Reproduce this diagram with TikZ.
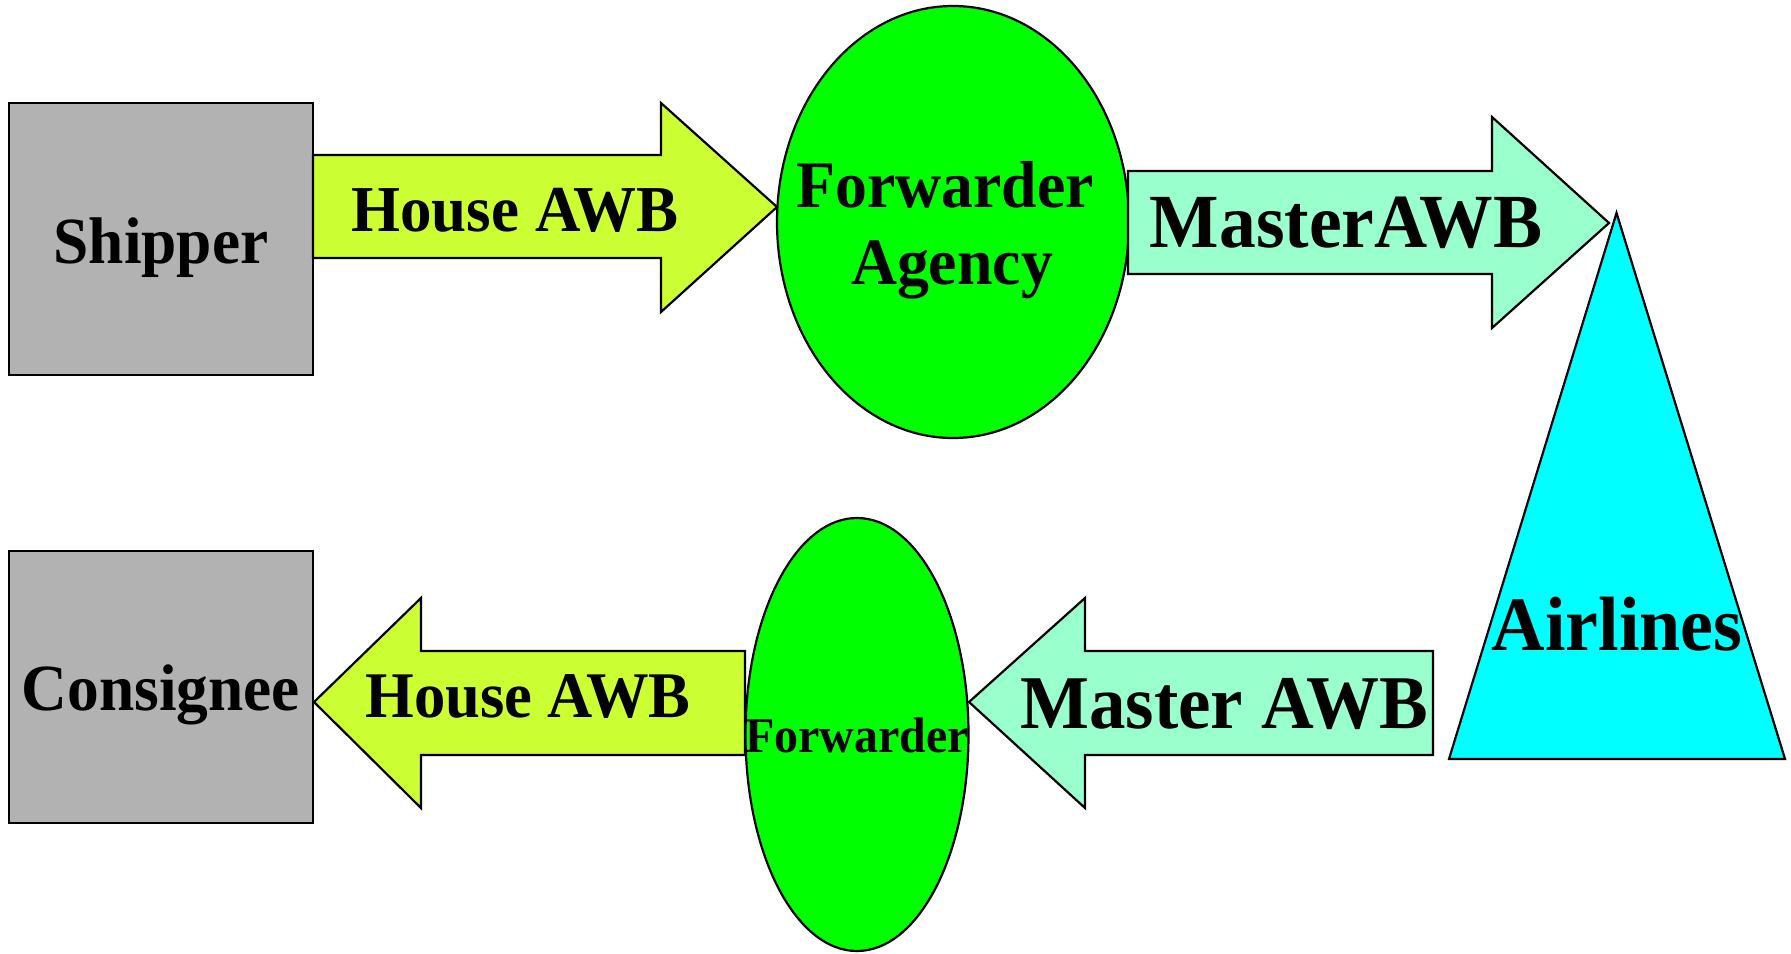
\documentclass[tikz,border=0pt]{standalone}
\usepackage{fontspec}
\setmainfont{Liberation Serif}
\usetikzlibrary{shapes.geometric}
\definecolor{boxgray}{HTML}{B2B2B2}
\definecolor{housecol}{HTML}{CCFF33}
\definecolor{fwdcol}{HTML}{00FF00}
\definecolor{mastercol}{HTML}{99FFCC}
\definecolor{aircol}{HTML}{00FFFF}
\newcommand{\fsz}[1]{\bfseries\fontsize{#1}{#1}\selectfont}
\begin{document}
\begin{tikzpicture}[x=0.5pt,y=-0.5pt,
  outline/.style={draw=black,line width=1.1pt,line join=miter},
  party/.style={outline,fill=boxgray,rectangle,minimum width=152pt,minimum height=136pt,inner sep=0pt},
  fwd/.style={outline,fill=fwdcol,ellipse,inner sep=0pt},
  housearrow/.style={outline,fill=housecol},
  masterarrow/.style={outline,fill=mastercol},
  lbl/.style={anchor=base,inner sep=0pt,yscale=1.04},
]
\useasboundingbox (0,0) rectangle (1791,953);

% parties
\node[party] (shipper) at (161,239) {};
\node[party] (consignee) at (161,687) {};

% top House AWB arrow
\coordinate (h1s) at (313,155);
\draw[housearrow] (h1s) -- (661,155) -- (661,103) -- (777,207) -- (661,312) -- (661,258) -- (313,258) -- cycle;

% Forwarder Agency ellipse
\node[fwd,minimum width=176pt,minimum height=216pt] (agency) at (953,222) {};

% top Master AWB arrow
\coordinate (m1s) at (1128,171);
\draw[masterarrow] (m1s) -- (1492,171) -- (1492,117) -- (1609,223) -- (1492,328) -- (1492,274) -- (1128,274) -- cycle;

% Airlines triangle
\coordinate (apex) at (1616.5,213);
\draw[outline,fill=aircol] (apex) -- (1785,759) -- (1449,759) -- cycle;

% lower Master AWB arrow
\coordinate (m2t) at (969,702);
\draw[masterarrow] (m2t) -- (1085,598) -- (1085,651) -- (1433,651) -- (1433,755) -- (1085,755) -- (1085,808) -- cycle;

% lower House AWB arrow
\coordinate (h2t) at (314,702);
\draw[housearrow] (h2t) -- (421,598) -- (421,651) -- (745,651) -- (745,755) -- (421,755) -- (421,808) -- cycle;

% Forwarder ellipse
\node[fwd,minimum width=111.5pt,minimum height=216.5pt] (forwarder) at (857,734.5) {};

% labels
\node[lbl,font=\fsz{31.7}] (tship) at (161,263) {Shipper};
\node[lbl,font=\fsz{31.5}] (thouse1) at (515,231) {House AWB};
\node[lbl,font=\fsz{31.9}] (tfwd1) at (945,207) {Forwarder};
\node[lbl,font=\fsz{31.9}] (tagency) at (952,284) {Agency};
\node[lbl,font=\fsz{36.8}] (tmaster1) at (1346,247) {MasterAWB};
\node[lbl,font=\fsz{37}] (tair) at (1617,650) {Airlines};
\node[lbl,font=\fsz{36.5}] (tmaster2) at (1224,728) {Master AWB};
\node[lbl,font=\fsz{31.7}] (tcons) at (161,710) {Consignee};
\node[lbl,font=\fsz{31.3}] (thouse2) at (528,717) {House AWB};
\node[lbl,font=\fsz{24}] (tfwd2) at (857,752) {Forwarder};
\end{tikzpicture}
\end{document}
